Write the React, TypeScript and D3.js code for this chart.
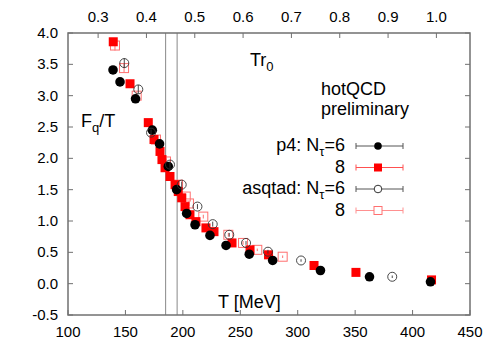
import React from 'react';
import * as d3 from 'd3';

// p4 action, N_tau = 6 (filled black circles)
const p4N6T = [139.2, 145.3, 158.8, 173.4, 179.7, 187.3, 194.6, 203.3, 210.6, 223.6, 237.6, 257.8, 278.2, 319.8, 362.5, 415.6];
const p4N6F = [3.41, 3.22, 2.95, 2.45, 2.23, 1.87, 1.50, 1.12, 0.94, 0.77, 0.61, 0.47, 0.37, 0.21, 0.11, 0.03];

// p4 action, N_tau = 8 (filled red squares)
const p4N8T = [139.4, 154.0, 169.9, 174.9, 180.1, 181.8, 184.5, 188.8, 193.2, 196.0, 199.0, 201.9, 206.2, 211.4, 220.1, 227.1, 242.8, 258.5, 274.6, 314.2, 350.7, 416.5];
const p4N8F = [3.86, 3.19, 2.57, 2.30, 2.11, 1.98, 1.85, 1.71, 1.58, 1.47, 1.37, 1.23, 1.10, 0.99, 0.89, 0.83, 0.65, 0.54, 0.46, 0.29, 0.18, 0.06];

// asqtad action, N_tau = 6 (open circles)
const asqN6T = [149.0, 161.2, 172.3, 188.8, 199.0, 212.7, 226.0, 240.4, 255.0, 274.1, 302.9, 382.3];
const asqN6F = [3.52, 3.10, 2.41, 1.90, 1.58, 1.23, 0.95, 0.78, 0.65, 0.51, 0.37, 0.11];
const asqN6E = [0.08, 0.07, 0.05, 0.05, 0.05, 0.04, 0.04, 0.03, 0.03, 0.03, 0.02, 0.02];

// asqtad action, N_tau = 8 (open pink squares)
const asqN8T = [140.9, 148.8, 159.8, 176.6, 185.3, 195.8, 202.5, 205.3, 217.8, 239.6, 252.4, 264.8, 286.9];
const asqN8F = [3.80, 3.44, 3.00, 2.30, 1.95, 1.58, 1.39, 1.28, 1.07, 0.78, 0.65, 0.54, 0.43];
const asqN8E = [0.08, 0.07, 0.06, 0.05, 0.05, 0.04, 0.04, 0.04, 0.03, 0.03, 0.03, 0.02, 0.02];

const xTicks = [100, 150, 200, 250, 300, 350, 400, 450];
const yTicks = [-0.5, 0, 0.5, 1, 1.5, 2, 2.5, 3, 3.5, 4];
const topTicks = [0.3, 0.4, 0.5, 0.6, 0.7, 0.8, 0.9, 1.0];
const tcLines = [185, 195];

const r0 = 0.469;     // fm
const hbarc = 197.327; // MeV fm

const font = '"Liberation Sans", Arial, sans-serif';

export default function App() {
  const left = 68, right = 470, top = 33, bottom = 315;
  const x = d3.scaleLinear().domain([100, 450]).range([left, right]);
  const y = d3.scaleLinear().domain([-0.5, 4]).range([bottom, top]);
  const xTop = (tr: number) => x((tr * hbarc) / r0);
  const frame = '#707070';
  const tick = 5;

  const legendX = 378;
  const legendRows = [146, 167.5, 189, 210.5];

  return (
    <svg width={498} height={349} style={{ position: 'absolute', left: 0, top: 0 }} fontFamily={font}>
      <rect x={0} y={0} width={498} height={349} fill="white" />

      {/* Tc band lines */}
      {tcLines.map(t => (
        <line key={t} x1={x(t)} x2={x(t)} y1={top} y2={bottom} stroke="#888" strokeWidth={1} />
      ))}

      {/* frame */}
      <rect x={left} y={top} width={right - left} height={bottom - top} fill="none" stroke={frame} strokeWidth={1.5} />

      {/* bottom ticks */}
      {xTicks.map(t => (
        <g key={'x' + t}>
          <line x1={x(t)} x2={x(t)} y1={bottom} y2={bottom - tick} stroke={frame} />
          <text x={x(t)} y={337} textAnchor="middle" fontSize={15}>{t}</text>
        </g>
      ))}

      {/* left/right ticks */}
      {yTicks.map(t => (
        <g key={'y' + t}>
          <line x1={left} x2={left + tick} y1={y(t)} y2={y(t)} stroke={frame} />
          <line x1={right} x2={right - tick} y1={y(t)} y2={y(t)} stroke={frame} />
          <text x={58} y={y(t) + 5} textAnchor="end" fontSize={15}>{t.toFixed(1)}</text>
        </g>
      ))}

      {/* top Tr0 ticks */}
      {topTicks.map(t => (
        <g key={'t' + t}>
          <line x1={xTop(t)} x2={xTop(t)} y1={top} y2={top + tick} stroke={frame} />
          <text x={xTop(t)} y={22} textAnchor="middle" fontSize={15}>{t.toFixed(1)}</text>
        </g>
      ))}

      {/* axis labels */}
      <text x={218} y={308} fontSize={18}>T [MeV]</text>
      <text x={81} y={127} fontSize={18}>
        F<tspan fontSize={13} dy={5}>q</tspan><tspan dy={-5}>/T</tspan>
      </text>
      <text x={250} y={66} fontSize={18}>
        Tr<tspan fontSize={13} dy={5}>0</tspan>
      </text>
      <text x={321} y={95} fontSize={18}>hotQCD</text>
      <text x={321} y={115} fontSize={18}>preliminary</text>

      {/* asqtad Ntau=8 open squares */}
      {asqN8T.map((t, i) => (
        <g key={'a8' + i} stroke="#ff7070" fill="none" strokeWidth={1}>
          <line x1={x(t)} x2={x(t)} y1={y(asqN8F[i] - asqN8E[i])} y2={y(asqN8F[i] + asqN8E[i])} />
          <rect x={x(t) - 4.5} y={y(asqN8F[i]) - 4.5} width={9} height={9} />
        </g>
      ))}

      {/* p4 Ntau=8 red squares */}
      {p4N8T.map((t, i) => (
        <rect key={'p8' + i} x={x(t) - 4.5} y={y(p4N8F[i]) - 4.5} width={9} height={9} fill="#ff0000" />
      ))}

      {/* p4 Ntau=6 black circles */}
      {p4N6T.map((t, i) => (
        <circle key={'p6' + i} cx={x(t)} cy={y(p4N6F[i])} r={4.8} fill="#000" />
      ))}

      {/* asqtad Ntau=6 open circles */}
      {asqN6T.map((t, i) => (
        <g key={'a6' + i} stroke="#333" fill="none" strokeWidth={0.9}>
          <line x1={x(t)} x2={x(t)} y1={y(asqN6F[i] - asqN6E[i])} y2={y(asqN6F[i] + asqN6E[i])} />
          <circle cx={x(t)} cy={y(asqN6F[i])} r={4.5} />
        </g>
      ))}

      {/* legend */}
      {[
        { label: 'p4: ', sub: true, color: '#555', kind: 'fc' },
        { label: '8', sub: false, color: '#ff5050', kind: 'fs' },
        { label: 'asqtad: ', sub: true, color: '#555', kind: 'oc' },
        { label: '8', sub: false, color: '#ff9090', kind: 'os' },
      ].map((d, i) => {
        const ly = legendRows[i];
        return (
          <g key={'lg' + i}>
            <text x={345} y={ly + 5} textAnchor="end" fontSize={18}>
              {d.sub ? (
                <>
                  {d.label}N<tspan fontSize={13} dy={5}>τ</tspan><tspan dy={-5}>=6</tspan>
                </>
              ) : d.label}
            </text>
            <line x1={356} x2={403} y1={ly} y2={ly} stroke={d.color} strokeWidth={1} />
            <line x1={356} x2={356} y1={ly - 3} y2={ly + 3} stroke={d.color} strokeWidth={1} />
            <line x1={403} x2={403} y1={ly - 3} y2={ly + 3} stroke={d.color} strokeWidth={1} />
            {d.kind === 'fc' && <circle cx={legendX} cy={ly} r={3.8} fill="#000" />}
            {d.kind === 'fs' && <rect x={legendX - 4} y={ly - 4} width={8} height={8} fill="#ff0000" />}
            {d.kind === 'oc' && <circle cx={legendX} cy={ly} r={3.8} fill="white" stroke="#333" />}
            {d.kind === 'os' && <rect x={legendX - 4} y={ly - 4} width={8} height={8} fill="white" stroke="#ff7070" />}
          </g>
        );
      })}
    </svg>
  );
}
